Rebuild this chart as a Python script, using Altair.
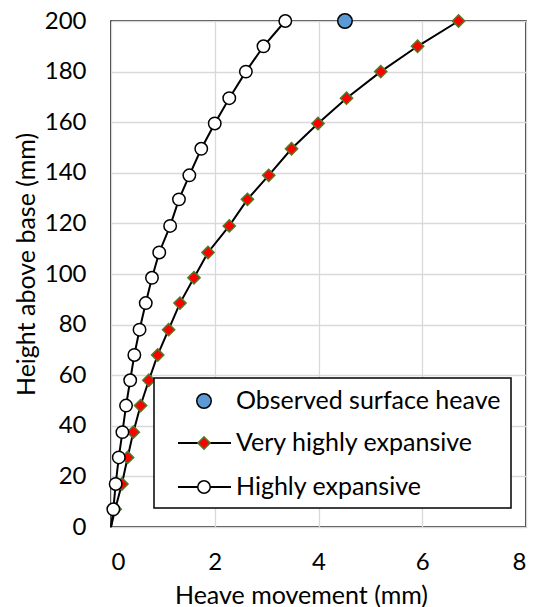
import altair as alt
import pandas as pd

heights = [200, 190, 180, 169.5, 159.5, 149.5, 139, 129.5, 119, 108.5,
           98.5, 88.5, 78, 68, 58, 48, 37.5, 27.5, 17, 7]
very_high = [6.70, 5.91, 5.20, 4.54, 3.99, 3.48, 3.04, 2.63, 2.28, 1.87,
             1.60, 1.33, 1.11, 0.90, 0.73, 0.57, 0.43, 0.32, 0.21, 0.08]
high = [3.36, 2.94, 2.60, 2.28, 2.00, 1.74, 1.51, 1.31, 1.14, 0.93,
        0.79, 0.67, 0.55, 0.45, 0.37, 0.29, 0.22, 0.15, 0.09, 0.045]
observed_x = [4.51]
observed_y = [200]
series_names = ["Observed surface heave", "Very highly expansive", "Highly expansive"]
x_ticks = [0, 2, 4, 6, 8]
y_ticks = [0, 20, 40, 60, 80, 100, 120, 140, 160, 180, 200]

FONT = "Lato"
FS_LABEL = 24
FS = 25

rows = []
for h, v in zip(heights, very_high):
    rows.append({"series": series_names[1], "x": v, "y": h, "marker": True})
rows.append({"series": series_names[1], "x": 0, "y": 0, "marker": False})
for h, v in zip(heights, high):
    rows.append({"series": series_names[2], "x": v, "y": h, "marker": True})
rows.append({"series": series_names[2], "x": 0, "y": 0, "marker": False})
df = pd.DataFrame(rows)
obs = pd.DataFrame({"x": observed_x, "y": observed_y})

xs = alt.Scale(domain=[0, 8], nice=False)
ys = alt.Scale(domain=[0, 200], nice=False)

xenc = alt.X("x:Q", scale=xs, axis=alt.Axis(
    values=x_ticks, title="Heave movement (mm)", grid=True, ticks=False, domain=False,
    labelPadding=23, titleX=190, titleY=76, titleBaseline="alphabetic",
    titleAlign="center"))
yenc = alt.Y("y:Q", scale=ys, axis=alt.Axis(
    values=y_ticks, title="Height above base (mm)", grid=True, ticks=False, domain=False,
    labelPadding=25, titleX=-77, titleY=243, titleBaseline="alphabetic", titleAngle=-90,
    titleAlign="center"))

lines = alt.Chart(df).mark_line(color="black", strokeWidth=2).encode(
    x=xenc, y=yenc, detail="series:N", order="y:Q")

vh_pts = alt.Chart(df).transform_filter(
    (alt.datum.series == series_names[1]) & alt.datum.marker
).mark_point(shape="diamond", filled=True, fill="#ff0000", stroke="#4f7a28",
             strokeWidth=1.5, size=150, opacity=1).encode(x="x:Q", y="y:Q")

h_pts = alt.Chart(df).transform_filter(
    (alt.datum.series == series_names[2]) & alt.datum.marker
).mark_point(shape="circle", filled=True, fill="white", stroke="black",
             strokeWidth=1.5, size=155, opacity=1).encode(x="x:Q", y="y:Q")

obs_pts = alt.Chart(obs).mark_point(shape="circle", filled=True, fill="#5b9bd5",
                                    stroke="black", strokeWidth=1.5, size=210,
                                    opacity=1).encode(x="x:Q", y="y:Q")

# manual legend
one = pd.DataFrame({"k": [0]})
leg_box = alt.Chart(one).mark_rect(fill="white", stroke="black", strokeWidth=1.5).encode(
    x=alt.value(43), x2=alt.value(400), y=alt.value(357), y2=alt.value(487))

row_y = [380, 422, 466]
leg_layers = [leg_box]
leg_layers.append(alt.Chart(one).mark_point(shape="circle", filled=True, fill="#5b9bd5",
                                            stroke="black", strokeWidth=1.5, size=210,
                                            opacity=1).encode(x=alt.value(93), y=alt.value(row_y[0])))
for ry in row_y[1:]:
    leg_layers.append(alt.Chart(one).mark_rule(color="black", strokeWidth=2).encode(
        x=alt.value(67), x2=alt.value(120), y=alt.value(ry)))
leg_layers.append(alt.Chart(one).mark_point(shape="diamond", filled=True, fill="#ff0000",
                                            stroke="#4f7a28", strokeWidth=1.5, size=150,
                                            opacity=1).encode(x=alt.value(93), y=alt.value(row_y[1])))
leg_layers.append(alt.Chart(one).mark_point(shape="circle", filled=True, fill="white",
                                            stroke="black", strokeWidth=1.5, size=155,
                                            opacity=1).encode(x=alt.value(93), y=alt.value(row_y[2])))
leg_df = pd.DataFrame({"label": series_names, "row": [0, 1, 2]})
for i, ry in enumerate(row_y):
    leg_layers.append(alt.Chart(leg_df).transform_filter(alt.datum.row == i).mark_text(
        align="left", baseline="middle", font=FONT, fontSize=FS, color="black").encode(
        x=alt.value(125), y=alt.value(ry), text="label:N"))

chart = alt.layer(lines, vh_pts, h_pts, obs_pts, *leg_layers).properties(
    width=415, height=506,
    padding={"left": 111, "top": 21, "right": 7, "bottom": 80},
    autosize=alt.AutoSizeParams(type="none"),
).configure_view(stroke="black", strokeWidth=1.5).configure_axis(
    gridColor="#d9d9d9", gridWidth=1.3, labelFont=FONT, labelFontSize=FS_LABEL,
    labelColor="black", titleFont=FONT, titleFontSize=FS, titleColor="black",
    titleFontWeight="normal",
)

chart.save("out.html", embed_options={"renderer": "svg", "actions": False})
